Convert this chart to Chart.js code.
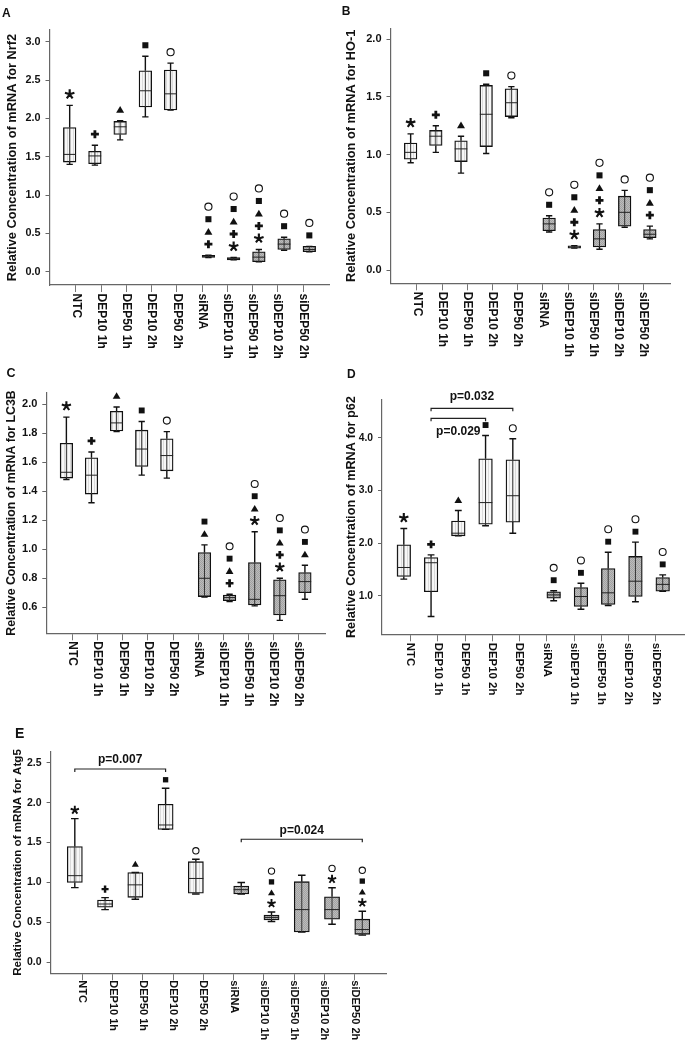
<!DOCTYPE html>
<html lang="en">
<head>
  <meta charset="UTF-8">
  <title>Relative mRNA concentration - box plots</title>
  <script src="https://cdn.jsdelivr.net/npm/chart.js@4.4.1/dist/chart.umd.min.js"></script>
  <style>
    body { margin: 0; background: #fff; }
    #page { position: relative; width: 685px; height: 1042px; overflow: hidden; background: #fff; }
    #page canvas { position: absolute; }
  </style>
</head>
<body>
  <div id="page">
    <canvas id="chartA"></canvas>
    <canvas id="chartB"></canvas>
    <canvas id="chartC"></canvas>
    <canvas id="chartD"></canvas>
    <canvas id="chartE"></canvas>
  </div>

  <script>
    // 01 data -- categories, boxes [min, q1, median, q3, max], significance marks, ticks
    const categories = ['NTC', 'DEP10 1h', 'DEP50 1h', 'DEP10 2h', 'DEP50 2h',
      'siRNA', 'siDEP10 1h', 'siDEP50 1h', 'siDEP10 2h', 'siDEP50 2h'];

    // * vs NTC, + vs DEP10 1h, ^ vs DEP50 1h, s vs DEP10 2h, o vs DEP50 2h (bottom to top)
    const nrf2Boxes = [
      [1.40, 1.43, 1.53, 1.88, 2.17], [1.39, 1.41, 1.51, 1.57, 1.65], [1.72, 1.79, 1.89, 1.96, 1.97],
      [2.02, 2.15, 2.36, 2.62, 2.81], [2.11, 2.11, 2.32, 2.63, 2.72],
      [0.185, 0.185, 0.20, 0.215, 0.215], [0.155, 0.155, 0.17, 0.185, 0.185], [0.13, 0.13, 0.19, 0.26, 0.29],
      [0.28, 0.29, 0.36, 0.43, 0.45], [0.26, 0.26, 0.29, 0.33, 0.33]
    ];
    const nrf2Marks = ['*', '+', '^', 's', 'o', '+^so', '*+^so', '*+^so', 'so', 'so'];
    const nrf2Ticks = [0, 0.5, 1.0, 1.5, 2.0, 2.5, 3.0];

    const ho1Boxes = [
      [0.93, 0.96, 1.02, 1.10, 1.18], [1.02, 1.08, 1.16, 1.21, 1.25], [0.84, 0.94, 1.05, 1.12, 1.16],
      [1.01, 1.07, 1.35, 1.60, 1.61], [1.32, 1.33, 1.45, 1.57, 1.59],
      [0.33, 0.34, 0.40, 0.45, 0.47], [0.19, 0.19, 0.20, 0.21, 0.21], [0.18, 0.20, 0.27, 0.35, 0.40],
      [0.37, 0.38, 0.50, 0.64, 0.69], [0.27, 0.28, 0.31, 0.35, 0.38]
    ];
    const ho1Marks = ['*', '+', '^', 's', 'o', 'so', '*+^so', '*+^so', 'o', '+^so'];
    const ho1Ticks = [0, 0.5, 1.0, 1.5, 2.0];

    const lc3bBoxes = [
      [1.48, 1.49, 1.53, 1.73, 1.91], [1.32, 1.38, 1.51, 1.63, 1.67], [1.81, 1.815, 1.87, 1.95, 1.98],
      [1.51, 1.57, 1.69, 1.82, 1.88], [1.49, 1.54, 1.645, 1.76, 1.81],
      [0.67, 0.674, 0.80, 0.977, 1.03], [0.64, 0.646, 0.667, 0.685, 0.69], [0.61, 0.616, 0.655, 0.908, 1.12],
      [0.51, 0.547, 0.68, 0.789, 0.80], [0.655, 0.70, 0.777, 0.84, 0.89]
    ];
    const lc3bMarks = ['*', '+', '^', 's', 'o', '^s', '+^so', '*^so', '*+^so', '^so'];
    const lc3bTicks = [0.6, 0.8, 1.0, 1.2, 1.4, 1.6, 1.8, 2.0];

    const p62Boxes = [
      [1.32, 1.37, 1.54, 1.97, 2.28], [0.61, 1.08, 1.63, 1.73, 1.78], [2.14, 2.14, 2.19, 2.42, 2.62],
      [2.33, 2.36, 2.77, 3.60, 4.04], [2.19, 2.40, 2.90, 3.58, 3.98],
      [0.91, 0.96, 1.02, 1.08, 1.10], [0.75, 0.80, 0.99, 1.16, 1.24], [0.82, 0.84, 1.06, 1.52, 1.83],
      [0.89, 0.99, 1.28, 1.75, 2.02], [1.09, 1.09, 1.22, 1.35, 1.40]
    ];
    const p62Marks = ['*', '+', '^', 's', 'o', 'so', 'so', 'so', 'so', 'so'];
    const p62Ticks = [1.0, 2.0, 3.0, 4.0];
    const p62Brackets = [
      { from: 1, to: 4, level: 4.557, text: 'p=0.032', above: true },
      { from: 1, to: 3, level: 4.367, text: 'p=0.029', above: false }
    ];

    const atg5Boxes = [
      [0.935, 1.00, 1.085, 1.45, 1.80], [0.66, 0.69, 0.73, 0.78, 0.81], [0.79, 0.814, 0.97, 1.125, 1.125],
      [1.665, 1.665, 1.72, 1.98, 2.18], [0.855, 0.865, 1.05, 1.26, 1.29],
      [0.855, 0.855, 0.91, 0.955, 1.00], [0.51, 0.53, 0.56, 0.59, 0.63], [0.38, 0.38, 0.66, 1.01, 1.09],
      [0.476, 0.54, 0.66, 0.82, 0.934], [0.34, 0.35, 0.41, 0.54, 0.64]
    ];
    const atg5Marks = ['*', '+', '^', 's', 'o', '', '*^so', '', '*o', '*^so'];
    const atg5Ticks = [0, 0.5, 1.0, 1.5, 2.0, 2.5];
    const atg5Brackets = [
      { from: 0, to: 3, level: 2.421, text: 'p=0.007', above: true },
      { from: 5, to: 9, level: 1.541, text: 'p=0.024', above: true }
    ];

    // 02 layout of the five panels (page pixels)
    const FONT = '"Liberation Sans", Arial, Helvetica, sans-serif';
    const panels = [
      { id: 'chartA', letter: 'A', title: 'Relative Concentration of mRNA for Nrf2',
        boxes: nrf2Boxes, marks: nrf2Marks, ticks: nrf2Ticks, brackets: [],
        canvas: { left: 0, top: 0, width: 342, height: 385 },
        plot: { left: 49.5, right: 329.5, top: 30, bottom: 285 }, yMin: -0.1735, yMax: 3.1526,
        letterAt: [2, 16.7, 12], titleAt: [12, 12.8], tickSize: 10.8, labelSize: 12, labelGap: 8.5,
        markGap: 11, markStep: 12.5, markScale: 1.08 },
      { id: 'chartB', letter: 'B', title: 'Relative Concentration of mRNA for HO-1',
        boxes: ho1Boxes, marks: ho1Marks, ticks: ho1Ticks, brackets: [],
        canvas: { left: 340, top: 0, width: 345, height: 385 },
        plot: { left: 390.5, right: 670, top: 28.3, bottom: 283.3 }, yMin: -0.1153, yMax: 2.0954,
        letterAt: [341.7, 15.3, 12], titleAt: [351.7, 12.8], tickSize: 11, labelSize: 12, labelGap: 8.5,
        markGap: 11, markStep: 12.5, markScale: 1.08 },
      { id: 'chartC', letter: 'C', title: 'Relative Concentration of mRNA for LC3B',
        boxes: lc3bBoxes, marks: lc3bMarks, ticks: lc3bTicks, brackets: [],
        canvas: { left: 0, top: 360, width: 342, height: 385 },
        plot: { left: 46.3, right: 325, top: 392.7, bottom: 633.3 }, yMin: 0.421, yMax: 2.078,
        letterAt: [6.5, 377, 12.5], titleAt: [11.7, 12.3], tickSize: 11, labelSize: 12, labelGap: 8,
        markGap: 11, markStep: 12.3, markScale: 1.05 },
      { id: 'chartD', letter: 'D', title: 'Relative Concentration of mRNA for p62',
        boxes: p62Boxes, marks: p62Marks, ticks: p62Ticks, brackets: p62Brackets,
        canvas: { left: 340, top: 360, width: 345, height: 385 },
        plot: { left: 382, right: 684.5, top: 400, bottom: 634.3 }, yMin: 0.274, yMax: 4.714,
        letterAt: [347, 378, 12], titleAt: [351.7, 12.7], tickSize: 10.3, labelSize: 11.4, labelGap: 8.5,
        markGap: 10.5, markStep: 12.4, markScale: 1.05, bracketText: [11.6, 13.4] },
      { id: 'chartE', letter: 'E', title: 'Relative Concentration of mRNA for Atg5',
        boxes: atg5Boxes, marks: atg5Marks, ticks: atg5Ticks, brackets: atg5Brackets,
        canvas: { left: 0, top: 705, width: 400, height: 337 },
        plot: { left: 50.6, right: 386.5, top: 751.7, bottom: 973.3 }, yMin: -0.138, yMax: 2.638,
        letterAt: [15, 738, 14], titleAt: [17.3, 11.6], tickSize: 10.5, labelSize: 11, labelGap: 7,
        markGap: 8.5, markStep: 10.8, markScale: 0.95, bracketText: [9, 9] }
    ];

    // 03 fill textures of the boxes
    function makePattern(size, paint) {
      const c = document.createElement('canvas');
      c.width = size; c.height = size;
      paint(c.getContext('2d'));
      return c.getContext('2d').createPattern(c, 'repeat');
    }
    const lightFill = makePattern(3, g => {
      g.fillStyle = '#f7f7f7'; g.fillRect(0, 0, 3, 3);
      g.fillStyle = '#dadada'; g.fillRect(1, 0, 1, 3);
    });
    const darkFill = makePattern(2, g => {
      g.fillStyle = '#bcbcbc'; g.fillRect(0, 0, 2, 2);
      g.fillStyle = '#a2a2a2'; g.fillRect(0, 0, 1, 1); g.fillRect(1, 1, 1, 1);
    });

    // 04 significance symbols
    function drawMark(ctx, sym, x, cy, k) {
      ctx.save();
      ctx.fillStyle = '#111';
      ctx.strokeStyle = '#111';
      ctx.beginPath();
      if (sym === '*') {
        ctx.lineWidth = 2 * k;
        for (let a = 0; a < 5; a++) {
          const t = -Math.PI / 2 + a * 2 * Math.PI / 5;
          ctx.moveTo(x, cy);
          ctx.lineTo(x + 4.6 * k * Math.cos(t), cy + 4.6 * k * Math.sin(t));
        }
        ctx.stroke();
      } else if (sym === '+') {
        ctx.lineWidth = 2.6 * k;
        ctx.moveTo(x - 3.7 * k, cy); ctx.lineTo(x + 3.7 * k, cy);
        ctx.moveTo(x, cy - 3.7 * k); ctx.lineTo(x, cy + 3.7 * k);
        ctx.stroke();
      } else if (sym === '^') {
        ctx.moveTo(x, cy - 3.4 * k);
        ctx.lineTo(x + 3.7 * k, cy + 2.8 * k);
        ctx.lineTo(x - 3.7 * k, cy + 2.8 * k);
        ctx.closePath();
        ctx.fill();
      } else if (sym === 's') {
        ctx.fillRect(x - 2.8 * k, cy - 2.8 * k, 5.6 * k, 5.6 * k);
      } else if (sym === 'o') {
        ctx.lineWidth = 1.1;
        ctx.arc(x, cy, 3.3 * k, 0, Math.PI * 2);
        ctx.fillStyle = '#fff';
        ctx.fill();
        ctx.stroke();
      }
      ctx.restore();
    }

    // 05 plugin -- whiskers, medians, symbols, labels, brackets
    const boxPlotPlugin = {
      id: 'boxPlot',
      afterDatasetsDraw(chart, args, opts) {
        const p = opts.panel;
        const ctx = chart.ctx;
        const yScale = chart.scales.y;
        ctx.save();
        chart.data.datasets.forEach((ds, d) => {
          const meta = chart.getDatasetMeta(d);
          meta.data.forEach((bar, j) => {
            const i = ds.data[j].x;
            const [lo, q1, med, q3, hi] = p.boxes[i];
            const x = bar.x, w = bar.width;
            const yLo = yScale.getPixelForValue(lo), yHi = yScale.getPixelForValue(hi);
            const yQ1 = yScale.getPixelForValue(q1), yQ3 = yScale.getPixelForValue(q3);
            const yMed = yScale.getPixelForValue(med);

            // whisker line (through the box) and caps
            ctx.strokeStyle = '#111';
            ctx.lineWidth = 1.4;
            ctx.beginPath();
            ctx.moveTo(x, yHi); ctx.lineTo(x, yQ3);
            ctx.moveTo(x, yQ1); ctx.lineTo(x, yLo);
            ctx.moveTo(x - w / 4, yHi); ctx.lineTo(x + w / 4, yHi);
            ctx.moveTo(x - w / 4, yLo); ctx.lineTo(x + w / 4, yLo);
            ctx.stroke();
            ctx.lineWidth = 1;
            ctx.strokeStyle = '#333';
            ctx.beginPath();
            ctx.moveTo(x, yQ3); ctx.lineTo(x, yQ1);
            ctx.stroke();

            // median
            ctx.strokeStyle = '#222';
            ctx.lineWidth = 1;
            ctx.beginPath();
            ctx.moveTo(x - w / 2, yMed); ctx.lineTo(x + w / 2, yMed);
            ctx.stroke();

            // significance symbols stacked above the upper whisker
            const syms = p.marks[i].split('');
            syms.forEach((s, n) => {
              drawMark(ctx, s, x, yHi - p.markGap - n * p.markStep, p.markScale);
            });
          });
        });
        ctx.restore();
      },
      afterDraw(chart, args, opts) {
        const p = opts.panel;
        const ctx = chart.ctx;
        const ox = p.canvas.left, oy = p.canvas.top;
        const xScale = chart.scales.x, yScale = chart.scales.y;
        const area = chart.chartArea;
        ctx.save();
        ctx.fillStyle = '#111';

        // panel letter
        ctx.font = `bold ${p.letterAt[2]}px ${FONT}`;
        ctx.textAlign = 'left';
        ctx.textBaseline = 'alphabetic';
        ctx.fillText(p.letter, p.letterAt[0] - ox, p.letterAt[1] - oy);

        // y axis title
        ctx.save();
        ctx.font = `bold ${p.titleAt[1]}px ${FONT}`;
        ctx.translate(p.titleAt[0] - ox, (area.top + area.bottom) / 2);
        ctx.rotate(-Math.PI / 2);
        ctx.textAlign = 'center';
        ctx.textBaseline = 'middle';
        ctx.fillText(p.title, 0, 0);
        ctx.restore();

        // category labels, read top to bottom
        ctx.font = `bold ${p.labelSize}px ${FONT}`;
        categories.forEach((c, i) => {
          ctx.save();
          ctx.translate(xScale.getPixelForValue(i), area.bottom + p.labelGap);
          ctx.rotate(Math.PI / 2);
          ctx.textAlign = 'left';
          ctx.textBaseline = 'middle';
          ctx.fillText(c, 0, 0);
          ctx.restore();
        });

        // p-value brackets between box centres
        const centre = (i) => {
          const d = i < 5 ? 0 : 1;
          const ds = chart.data.datasets[d];
          const j = ds.data.findIndex(pt => pt.x === i);
          return chart.getDatasetMeta(d).data[j].x;
        };
        p.brackets.forEach(b => {
          const x1 = centre(b.from), x2 = centre(b.to);
          const yb = yScale.getPixelForValue(b.level);
          ctx.strokeStyle = '#222';
          ctx.lineWidth = 1.2;
          ctx.beginPath();
          ctx.moveTo(x1, yb + 3); ctx.lineTo(x1, yb); ctx.lineTo(x2, yb); ctx.lineTo(x2, yb + 3);
          ctx.stroke();
          ctx.font = `bold 12px ${FONT}`;
          ctx.textAlign = 'center';
          ctx.textBaseline = 'middle';
          const ty = b.above ? yb - p.bracketText[0] : yb + p.bracketText[1];
          ctx.fillText(b.text, (x1 + x2) / 2, ty);
        });
        ctx.restore();
      }
    };

    // 06 build one chart per panel
    function createPanel(p) {
      const el = document.getElementById(p.id);
      el.width = p.canvas.width;
      el.height = p.canvas.height;
      el.style.left = p.canvas.left + 'px';
      el.style.top = p.canvas.top + 'px';

      const control = [], silenced = [];
      p.boxes.forEach((b, i) => {
        (i < 5 ? control : silenced).push({ x: i, y: [b[1], b[3]] });
      });

      return new Chart(el, {
        type: 'bar',
        data: {
          datasets: [
            { label: 'control', data: control, backgroundColor: lightFill, borderColor: '#111',
              borderWidth: 1.3, borderSkipped: false, barPercentage: 1, categoryPercentage: 1 },
            { label: 'siRNA', data: silenced, backgroundColor: darkFill, borderColor: '#111',
              borderWidth: 1.3, borderSkipped: false, barPercentage: 1, categoryPercentage: 1 }
          ]
        },
        options: {
          responsive: false,
          animation: false,
          events: [],
          layout: {
            padding: {
              left: 0,
              top: p.plot.top - p.canvas.top,
              right: p.canvas.left + p.canvas.width - p.plot.right,
              bottom: 0
            }
          },
          plugins: {
            legend: { display: false },
            tooltip: { enabled: false },
            boxPlot: { panel: p }
          },
          scales: {
            x: {
              type: 'linear',
              min: -1.05,
              max: categories.length - 1 + 1.05,
              offset: false,
              grid: { offset: false, drawOnChartArea: false, drawTicks: true, tickLength: 7, color: '#777', lineWidth: 1 },
              border: { color: '#666', width: 1.2 },
              ticks: { display: false },
              afterBuildTicks: (s) => { s.ticks = categories.map((c, i) => ({ value: i })); },
              afterFit: (s) => { s.height = p.canvas.top + p.canvas.height - p.plot.bottom; }
            },
            y: {
              type: 'linear',
              min: p.yMin,
              max: p.yMax,
              beginAtZero: false,
              grid: { drawOnChartArea: false, drawTicks: true, tickLength: 4, color: '#666', lineWidth: 1 },
              border: { color: '#666', width: 1.2 },
              ticks: {
                color: '#111',
                padding: 5,
                font: { family: FONT, weight: 'bold', size: p.tickSize },
                callback: (v) => Number(v).toFixed(1)
              },
              afterBuildTicks: (s) => { s.ticks = p.ticks.map(v => ({ value: v })); },
              afterFit: (s) => { s.width = p.plot.left - p.canvas.left; }
            }
          }
        },
        plugins: [boxPlotPlugin]
      });
    }

    panels.forEach(createPanel);
  </script>
</body>
</html>
